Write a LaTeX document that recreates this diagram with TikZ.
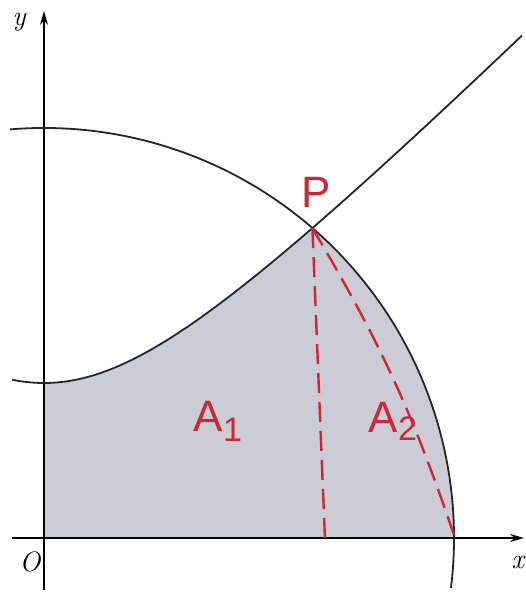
\documentclass[tikz,border=0pt]{standalone}
\usepackage{fontspec}
\newfontfamily\handfont{Liberation Sans}
\usetikzlibrary{arrows.meta}
\definecolor{areagray}{RGB}{204,204,214}
\definecolor{pen}{RGB}{205,40,50}
\begin{document}
\begin{tikzpicture}[x=100pt,y=100pt,
  axis/.style={line width=1.3pt,-{Stealth[length=14pt,width=8pt]}},
  curve/.style={line width=1.8pt, black!85},
  reddash/.style={line width=2.4pt, draw=pen, dash pattern=on 20pt off 9pt},
  hand/.style={text=pen, font=\fontsize{44}{44}\selectfont\handfont},
  lbl/.style={font=\fontsize{28}{28}\selectfont\itshape, inner sep=0pt}]
\useasboundingbox (-0.44,-0.56) rectangle (4.81,5.38);
\coordinate (O) at (0,0);
\coordinate (P) at (2.684,3.099);
\coordinate (D1) at (2.81,-0.02);
\coordinate (D2) at (4.11,0);
% shaded region
\fill[fill=areagray] (0,0) -- plot[domain=0:2.684,samples=60] (\x,{sqrt(\x*\x+1.55*1.55)})
  arc[start angle=49.1, end angle=0, radius=4.10] -- cycle;
% axes
\draw[axis] (-0.32,0) -- (4.80,0);
\draw[axis] (0,-0.52) -- (0,5.27);
% curves
\draw[curve] plot[domain=-0.32:4.78,samples=120] (\x,{sqrt(\x*\x+1.55*1.55)});
\draw[curve] (-0.34,4.086) arc[start angle=94.76, end angle=-7, radius=4.10];
% dashed
\draw[reddash] (P) -- (D1);
\draw[reddash] (P) to[bend left=6] (D2);
% labels
\node[lbl] (ly) at (-0.25,5.16) {y};
\node[lbl] (lx) at (4.74,-0.24) {x};
\node[lbl] (lO) at (-0.14,-0.24) {O};
\node[hand] (lP) at (2.72,3.46) {P};
\node[hand] (A1) at (1.74,1.17) {A\raisebox{-10pt}{\fontsize{34}{34}\selectfont 1}};
\node[hand] (A2) at (3.49,1.17) {A\raisebox{-8pt}{\fontsize{34}{34}\selectfont 2}};
\end{tikzpicture}
\end{document}
